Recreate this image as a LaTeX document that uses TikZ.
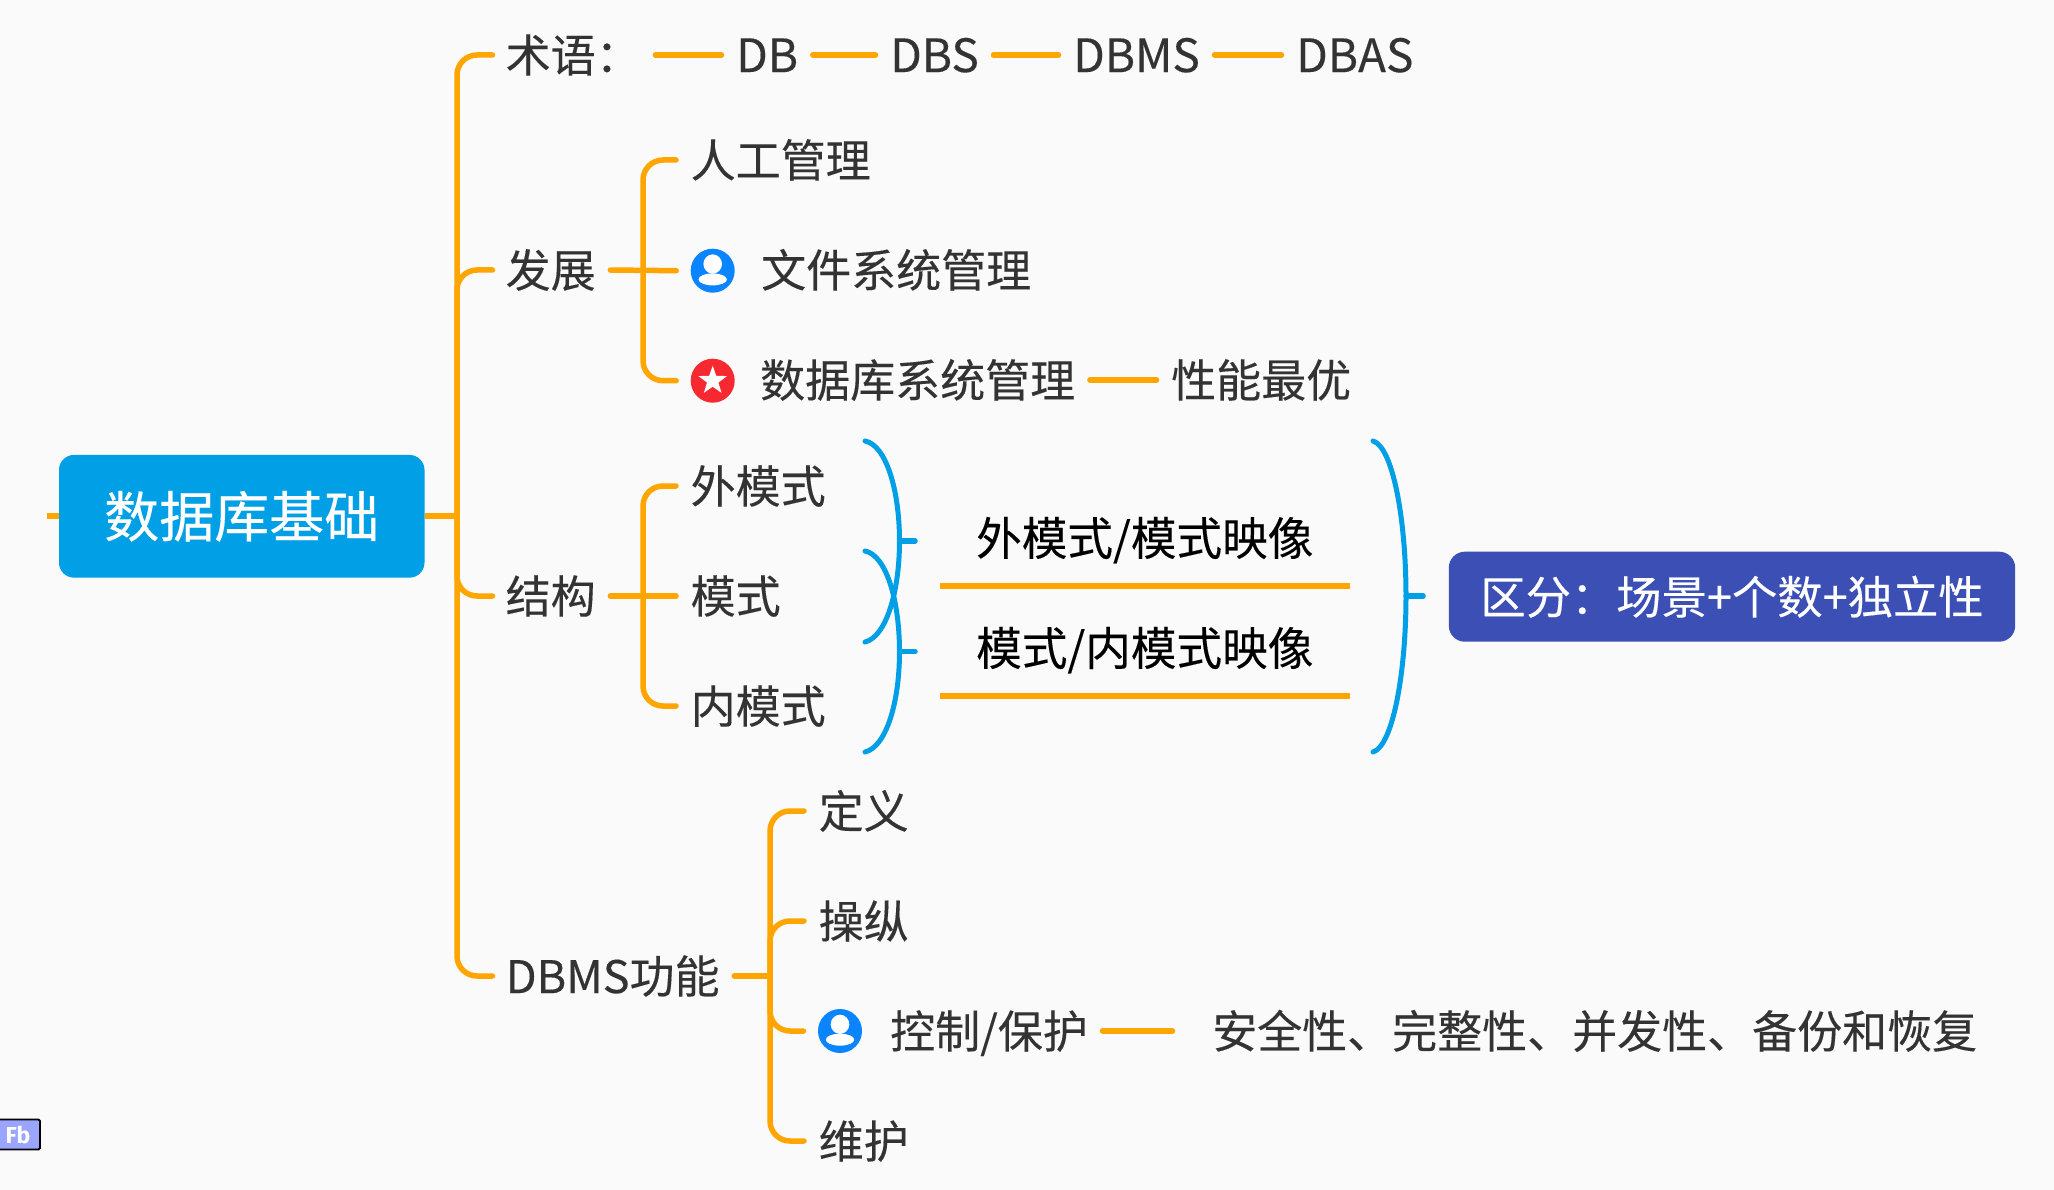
\documentclass[tikz,border=0pt]{standalone}
\usepackage{fontspec}
\setmainfont{Noto Sans CJK SC}[FakeBold=0.25]
\newfontfamily\badgefont{Fira Sans}
\usetikzlibrary{shapes.geometric}
\definecolor{bgc}{HTML}{FAFAFA}
\definecolor{org}{HTML}{FFA500}
\definecolor{sky}{HTML}{009FE6}
\definecolor{indi}{HTML}{3B4FB5}
\definecolor{ink}{HTML}{333333}
\definecolor{ublue}{HTML}{0A84FF}
\definecolor{sred}{HTML}{F5292F}
\definecolor{badge}{HTML}{9AA5FF}
\tikzset{
  x=1pt,y=-1pt,
  txt/.style={anchor=west,inner xsep=12pt,inner ysep=0pt,text=ink,font=\fontsize{45}{45}\selectfont,text height=39.6pt,text depth=5.4pt},
  latintxt/.style={txt,font=\fontsize{46}{46}\selectfont},
  elbow/.style={draw=org,line width=5.5pt,line cap=round,rounded corners=20pt,shorten >=2.5pt},
  link/.style={draw=org,line width=5.5pt,line cap=round,shorten >=2.5pt,shorten <=2.5pt},
  rule/.style={draw=org,line width=5.5pt},
  curly/.style={draw=sky,line width=5pt,line cap=round},
  tick/.style={draw=sky,line width=5.5pt,line cap=round},
  maptxt/.style={inner sep=0pt,text=black,font=\fontsize{45.6}{46}\selectfont,text height=40.1pt,text depth=5.5pt,minimum width=409.5pt,minimum height=96pt},
  person/.style={circle,fill=ublue,minimum size=44pt,inner sep=0pt,outer sep=12pt,
    path picture={
      \fill[white] ([yshift=6.7pt]path picture bounding box.center) ellipse[x radius=9.3pt,y radius=9.6pt];
      \fill[white] ([yshift=-8.7pt]path picture bounding box.center) ellipse[x radius=14.2pt,y radius=6pt];
    }},
  starred/.style={circle,fill=sred,minimum size=44pt,inner sep=0pt,outer sep=12pt,
    path picture={
      \node[star,star points=5,star point ratio=2.5,fill=white,minimum size=30pt,inner sep=0pt] at (path picture bounding box.center) {};
    }}
}
\begin{document}
\begin{tikzpicture}
\useasboundingbox (0,0) rectangle (2054,1190);
\fill[bgc] (0,0) rectangle (2054,1190);

% root
\node[fill=sky,rounded corners=15pt,minimum width=365.5pt,minimum height=122.7pt,inner sep=0pt,text=white,font=\fontsize{55}{55}\selectfont] (root) at (241.75,516.3) {数据库基础};
\coordinate (rootstub) at (47,516.3);
\coordinate (trunk) at (457,516.3);
\draw[draw=org,line width=6pt] (rootstub) -- (root.west);
\draw[draw=org,line width=6pt] (root.east) -- (trunk);

% level 1
\node[txt] (term) at (493.5,55) {术语：};
\node[txt] (dev) at (493.5,270) {发展};
\node[txt] (struct) at (493.5,596) {结构};
\node[txt] (func) at (493.5,976) {DBMS功能};
\draw[elbow,shorten >=1pt] (trunk) |- (term.west);
\draw[elbow,shorten >=1pt] (trunk) |- (dev.west);
\draw[elbow,shorten >=1pt] (trunk) |- (struct.west);
\draw[elbow,shorten >=1pt] (trunk) |- (func.west);

% terms
\node[latintxt] (db) at (724,55) {DB};
\node[latintxt] (dbs) at (878,55) {DBS};
\node[latintxt] (dbms) at (1061,55) {DBMS};
\node[latintxt] (dbas) at (1284,55) {DBAS};
\draw[link] (term.east) -- (db.west);
\draw[link] (db.east) -- (dbs.west);
\draw[link] (dbs.east) -- (dbms.west);
\draw[link] (dbms.east) -- (dbas.west);

% development
\coordinate (devhub) at (643,270);
\node[txt] (manual) at (678.5,160) {人工管理};
\node[person] (fileicon) at (712.7,270.7) {};
\node[txt] (file) at (749,270) {文件系统管理};
\node[starred] (dbicon) at (712.7,380.7) {};
\node[txt] (dbsys) at (748,380) {数据库系统管理};
\node[txt] (best) at (1159,380) {性能最优};
\draw[link] (dev.east) -- (fileicon.west);
\draw[elbow] (devhub) |- (manual.west);
\draw[elbow] (devhub) |- (dbicon.west);
\draw[link] (dbsys.east) -- (best.west);

% structure
\coordinate (structhub) at (643,596);
\node[txt] (ext) at (678.5,486) {外模式};
\node[txt] (schema) at (678.5,596) {模式};
\node[txt] (int) at (678.5,706) {内模式};
\draw[link] (struct.east) -- (schema.west);
\draw[elbow] (structhub) |- (ext.west);
\draw[elbow] (structhub) |- (int.west);

% braces
\coordinate (a1) at (865,441);
\coordinate (a2) at (899.5,541);
\coordinate (a3) at (865,642);
\coordinate (a4) at (915,541);
\coordinate (b1) at (865,551);
\coordinate (b2) at (899.5,651.7);
\coordinate (b3) at (865,752);
\coordinate (b4) at (915,651.7);
\coordinate (c1) at (1373,441);
\coordinate (c2) at (1406,596);
\coordinate (c3) at (1373,752);
\coordinate (c4) at (1423,596);
\draw[curly] (a1) .. controls (886,445) and (899.5,490) .. (a2) .. controls (899.5,592) and (886,637) .. (a3);
\draw[curly] (b1) .. controls (886,555) and (899.5,600) .. (b2) .. controls (899.5,703) and (886,747) .. (b3);
\draw[curly] (c1) .. controls (1393,447) and (1406,520) .. (c2) .. controls (1406,672) and (1393,746) .. (c3);
\draw[tick] (a2) -- (a4);
\draw[tick] (b2) -- (b4);
\draw[tick] (c2) -- (c4);

% mappings
\node[maptxt] (map1) at (1144.75,538) {外模式/模式映像};
\node[maptxt] (map2) at (1144.75,648) {模式/内模式映像};
\draw[rule] (map1.south west) -- (map1.south east);
\draw[rule] (map2.south west) -- (map2.south east);

% summary
\node[fill=indi,rounded corners=16pt,minimum width=566.4pt,minimum height=90pt,inner sep=0pt,text=white,font=\fontsize{45.3}{46}\selectfont] (summary) at (1732,596.7) {区分：场景+个数+独立性};

% DBMS functions
\coordinate (funchub) at (770,976);
\node[txt] (define) at (806.5,811) {定义};
\node[txt] (manip) at (806.5,921) {操纵};
\node[person] (ctrlicon) at (840,1031) {};
\node[txt] (ctrl) at (878,1031) {控制/保护};
\node[txt,inner xsep=37pt] (detail) at (1175,1031) {安全性、完整性、并发性、备份和恢复};
\node[txt] (maint) at (806.5,1141) {维护};
\draw[link,shorten >=0pt] (func.east) -- (funchub);
\draw[elbow] (funchub) |- (define.west);
\draw[elbow] (funchub) |- (manip.west);
\draw[elbow] (funchub) |- (ctrlicon.west);
\draw[elbow] (funchub) |- (maint.west);
\draw[link] (ctrl.east) -- (detail.west);

% badge
\node[fill=badge,draw=black,line width=1.8pt,rounded corners=1.5pt,minimum width=44pt,minimum height=30pt,inner sep=0pt] (badgebox) at (18,1134.5) {};
\node[inner sep=0pt,text=white,font=\badgefont\bfseries\fontsize{23}{23}\selectfont] (badgetxt) at (18,1134.5) {Fb};
\end{tikzpicture}
\end{document}
